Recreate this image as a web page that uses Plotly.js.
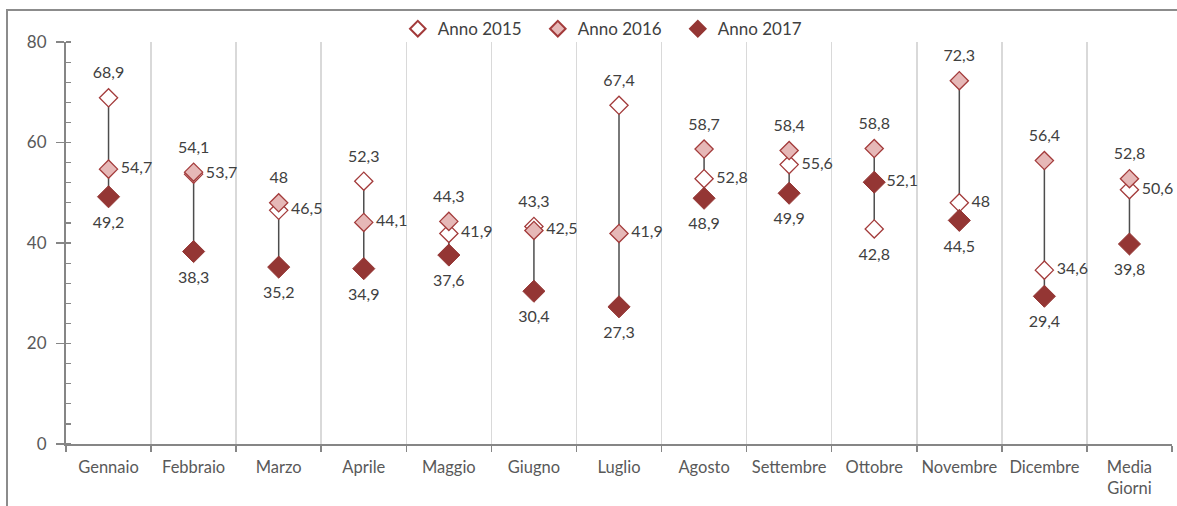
<!DOCTYPE html>
<html>
<head>
<meta charset="utf-8">
<script src="https://cdn.plot.ly/plotly-3.0.1.min.js"></script>
<style>
  html, body { margin: 0; padding: 0; background: #ffffff; }
  #chart { position: absolute; left: 0; top: 0; width: 1177px; height: 506px; }
  #frame {
    position: absolute; left: 6px; top: 9px; width: 1171px; height: 497px;
    border-left: 2px solid #8c8c8c; border-top: 2px solid #8c8c8c;
    pointer-events: none; box-sizing: border-box;
  }
</style>
</head>
<body>
<div id="chart"></div>
<div id="frame"></div>
<script>
// Monthly values per year, plus the overall average in the last column
const categories = ['Gennaio', 'Febbraio', 'Marzo', 'Aprile', 'Maggio', 'Giugno', 'Luglio',
  'Agosto', 'Settembre', 'Ottobre', 'Novembre', 'Dicembre', 'Media<br>Giorni'];
const anno2015 = [68.9, 53.7, 46.5, 52.3, 41.9, 43.3, 67.4, 52.8, 55.6, 42.8, 48, 34.6, 50.6];
const anno2016 = [54.7, 54.1, 48, 44.1, 44.3, 42.5, 41.9, 58.7, 58.4, 58.8, 72.3, 56.4, 52.8];
const anno2017 = [49.2, 38.3, 35.2, 34.9, 37.6, 30.4, 27.3, 48.9, 49.9, 52.1, 44.5, 29.4, 39.8];
const seriesNames = ['Anno 2015', 'Anno 2016', 'Anno 2017'];
const yTicks = [0, 20, 40, 60, 80];

const fmt = v => String(v).replace('.', ',');
const FONT = 'Lato, "Open Sans", sans-serif';

// High-low connector between the smallest and largest value of each category
const hlX = [], hlY = [];
// Labels: highest value above, middle to the right, lowest below
const hiLbl = {x: [], y: [], t: []}, midLbl = {x: [], y: [], t: []}, loLbl = {x: [], y: [], t: []};
categories.forEach((c, i) => {
  const vals = [anno2015[i], anno2016[i], anno2017[i]].slice().sort((a, b) => a - b);
  hlX.push(c, c, null);
  hlY.push(vals[0], vals[2], null);
  loLbl.x.push(c); loLbl.y.push(vals[0]); loLbl.t.push(fmt(vals[0]));
  midLbl.x.push(c); midLbl.y.push(vals[1]); midLbl.t.push(fmt(vals[1]));
  hiLbl.x.push(c); hiLbl.y.push(vals[2]); hiLbl.t.push(fmt(vals[2]));
});

const labelTrace = (g, pos, size) => ({
  x: g.x, y: g.y, text: g.t, type: 'scatter', mode: 'markers+text',
  textposition: pos, showlegend: false, hoverinfo: 'skip', cliponaxis: false,
  marker: {size: size, color: 'rgba(0,0,0,0)', line: {width: 0}},
  textfont: {family: FONT, size: 16, color: '#404040'}
});

const traces = [
  {x: hlX, y: hlY, type: 'scatter', mode: 'lines', showlegend: false, hoverinfo: 'skip',
   line: {color: '#4d4d4d', width: 1.5}},
  {x: categories, y: anno2015, name: seriesNames[0], type: 'scatter', mode: 'markers', cliponaxis: false,
   marker: {symbol: 'diamond', size: 14, color: '#ffffff', line: {color: '#a33b3b', width: 1.3}}},
  {x: categories, y: anno2016, name: seriesNames[1], type: 'scatter', mode: 'markers', cliponaxis: false,
   marker: {symbol: 'diamond', size: 14, color: '#e6b8b7', line: {color: '#a33b3b', width: 1.3}}},
  {x: categories, y: anno2017, name: seriesNames[2], type: 'scatter', mode: 'markers', cliponaxis: false,
   marker: {symbol: 'diamond', size: 17, color: '#943634', line: {color: '#943634', width: 1}}},
  labelTrace(hiLbl, 'top center', 23),
  labelTrace(midLbl, 'middle right', 18),
  labelTrace(loLbl, 'bottom center', 29)
];

const layout = {
  width: 1177, height: 506,
  margin: {l: 66, r: 5, t: 42, b: 62},
  paper_bgcolor: '#ffffff', plot_bgcolor: '#ffffff',
  font: {family: FONT, size: 17, color: '#595959'},
  showlegend: true,
  legend: {
    orientation: 'h', x: 0.300, xanchor: 'left', y: 1.032, yanchor: 'middle',
    font: {family: FONT, size: 17, color: '#404040'},
    itemsizing: 'constant', entrywidth: 95, entrywidthmode: 'pixels',
    bgcolor: 'rgba(0,0,0,0)', traceorder: 'normal'
  },
  xaxis: {
    type: 'category', range: [-0.5, 12.5], fixedrange: true,
    tickson: 'boundaries', ticks: 'outside', ticklen: 6, tickwidth: 1.5, tickcolor: '#868686',
    showline: true, linecolor: '#868686', linewidth: 2,
    showgrid: true, gridcolor: '#d9d9d9', gridwidth: 1.5,
    tickangle: 0,
    tickfont: {family: FONT, size: 16.5, color: '#595959'},
    ticklabelstandoff: 7,
    zeroline: false
  },
  yaxis: {
    range: [0, 80], tickvals: yTicks, ticktext: yTicks.map(String), fixedrange: true,
    ticks: 'outside', ticklen: 8, tickwidth: 1.5, tickcolor: '#868686',
    showline: true, linecolor: '#868686', linewidth: 2,
    showgrid: false, zeroline: false,
    minor: {dtick: 4, tick0: 0, ticks: 'inside', ticklen: 5, tickwidth: 1.2, tickcolor: '#868686', showgrid: false},
    tickfont: {family: FONT, size: 17, color: '#595959'},
    ticklabelstandoff: 6
  }
};

Plotly.newPlot('chart', traces, layout, {displayModeBar: false, staticPlot: true});
</script>
</body>
</html>
